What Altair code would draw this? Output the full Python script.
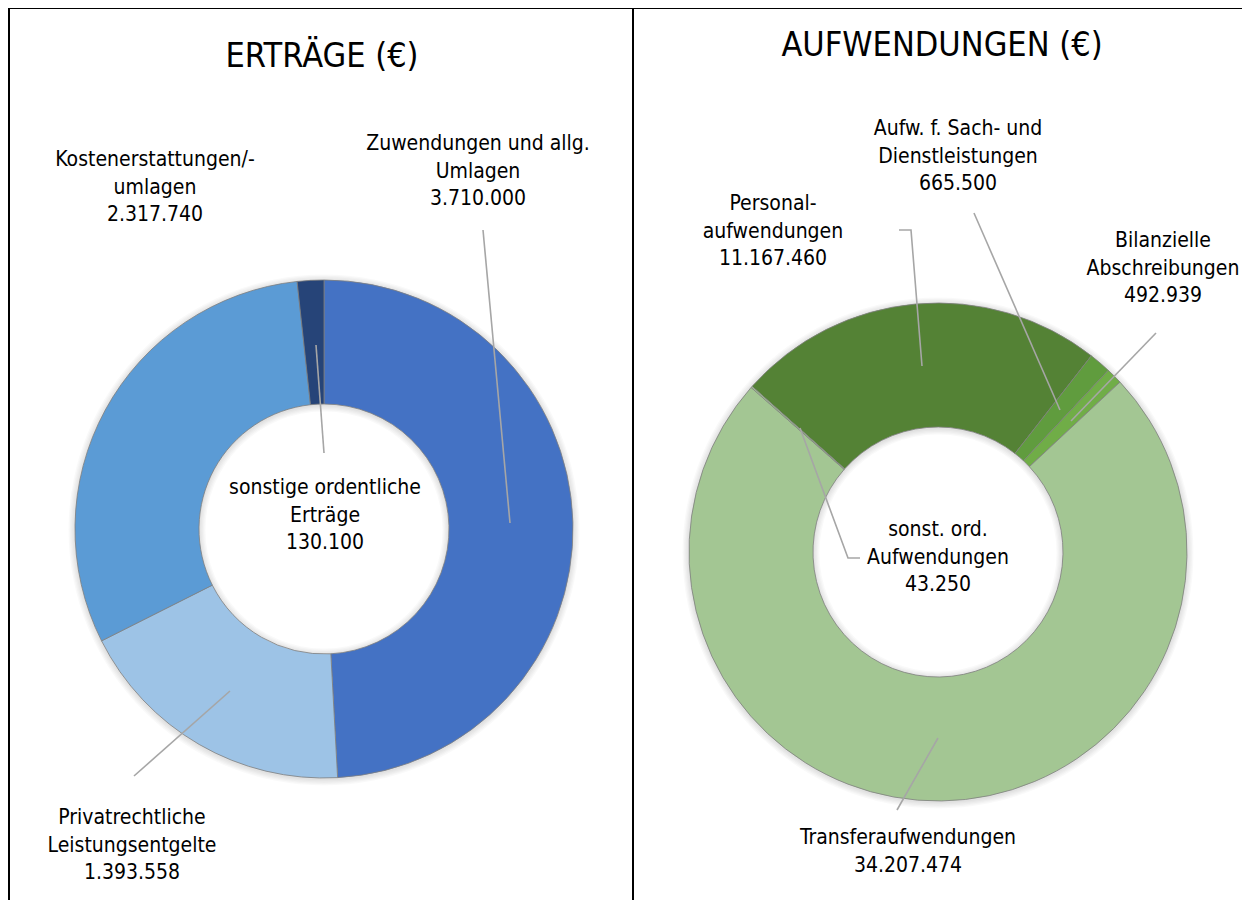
import math
import altair as alt
import pandas as pd

# ---------------- data ----------------
ertraege_names = ["Zuwendungen und allg. Umlagen", "Privatrechtliche Leistungsentgelte",
                  "Kostenerstattungen/-umlagen", "sonstige ordentliche Erträge"]
ertraege_lines = [["Zuwendungen und allg.", "Umlagen"], ["Privatrechtliche", "Leistungsentgelte"],
                  ["Kostenerstattungen/-", "umlagen"], ["sonstige ordentliche", "Erträge"]]
ertraege_values = [3710000, 1393558, 2317740, 130100]
ertraege_colors = ["#4472C4", "#9DC3E6", "#5B9BD5", "#264478"]

aufw_names = ["Personalaufwendungen", "Aufw. f. Sach- und Dienstleistungen",
              "Bilanzielle Abschreibungen", "Transferaufwendungen", "sonst. ord. Aufwendungen"]
aufw_lines = [["Personal-", "aufwendungen"], ["Aufw. f. Sach- und", "Dienstleistungen"],
              ["Bilanzielle", "Abschreibungen"], ["Transferaufwendungen"], ["sonst. ord.", "Aufwendungen"]]
aufw_values = [11167460, 665500, 492939, 34207474, 43250]
aufw_colors = ["#548235", "#609C3E", "#70AD47", "#A3C693", "#A3C693"]

title_left = "ERTRÄGE (€)"
title_right = "AUFWENDUNGEN (€)"

# ---------------- layout (pixels) ----------------
W, H = 1234, 892
FONT = "DejaVu Sans Condensed, Liberation Sans, sans-serif"
R_OUT, R_IN = 249, 125
C_LEFT = (316, 521)
C_RIGHT = (930, 544)
START_RIGHT = math.radians(-48.3)

# (x centre, y of first line)
label_pos_left = [(470, 136), (124, 810), (147, 152), (317, 480)]
label_pos_right = [(765, 196), (950, 121), (1155, 233), (900, 830), (930, 522)]
leaders_left = [[(475, 222), (502, 515)], [(126, 768), (222, 683)], None, [(308, 337), (316, 445)]]
leaders_right = [[(891, 222), (903, 222), (914, 358)], [(966, 205), (1052, 402)],
                 [(1148, 325), (1063, 413)], [(889, 802), (930, 730)],
                 [(792, 420), (840, 550), (852, 550)]]


def fmt(v):
    return f"{v:,}".replace(",", ".")


def donut(names, values, colors, center, start):
    df = pd.DataFrame({"name": names, "value": values, "idx": list(range(len(names)))})
    shadow = []
    for k in range(1, 6):
        shadow.append(
            alt.Chart(pd.DataFrame({"a": [0]})).mark_arc(
                theta=0, theta2=2 * math.pi, radius=R_OUT + k * 1.3, radius2=R_IN - k * 1.3,
                color="#000000", opacity=0.022
            ).encode(x=alt.value(center[0]), y=alt.value(center[1] + 1))
        )
    arcs = alt.Chart(df).mark_arc(radius=R_OUT, radius2=R_IN, stroke="#7f7f7f", strokeWidth=0.8).encode(
        theta=alt.Theta("value:Q", stack=True,
                        scale=alt.Scale(range=[start, start + 2 * math.pi])),
        order=alt.Order("idx:Q"),
        color=alt.Color("name:N", scale=alt.Scale(domain=names, range=colors), legend=None),
        x=alt.value(center[0]),
        y=alt.value(center[1]),
    )
    return shadow + [arcs]


def texts(lines, values, positions):
    rows = []
    for ln, v, p in zip(lines, values, positions):
        rows.append({"x": p[0], "y": p[1], "t": "\n".join(ln + [fmt(v)])})
    return alt.Chart(pd.DataFrame(rows)).mark_text(
        font=FONT, fontSize=21, color="#000000", lineBreak="\n", lineHeight=27.5,
        align="center", baseline="middle"
    ).encode(x=alt.X("x:Q", scale=None), y=alt.Y("y:Q", scale=None), text="t:N")


def leaders(paths, tag):
    rows = []
    for i, p in enumerate(paths):
        if p is None:
            continue
        for j, (x, y) in enumerate(p):
            rows.append({"g": f"{tag}{i}", "o": j, "x": x, "y": y})
    return alt.Chart(pd.DataFrame(rows)).mark_line(color="#A6A6A6", strokeWidth=1.6).encode(
        x=alt.X("x:Q", scale=None), y=alt.Y("y:Q", scale=None),
        detail="g:N", order="o:Q"
    )


def title(txt, x, y):
    return alt.Chart(pd.DataFrame({"t": [txt]})).mark_text(
        font=FONT, fontSize=34, color="#000000", align="center", baseline="middle"
    ).encode(x=alt.value(x), y=alt.value(y), text="t:N")


borders = alt.Chart(pd.DataFrame({
    "x": [1, 0, 625], "x2": [1, W, 625], "y": [0, 0, 0], "y2": [H, 0, H]
})).mark_rule(color="#000000", strokeWidth=2).encode(
    x=alt.X("x:Q", scale=None), x2="x2:Q", y=alt.Y("y:Q", scale=None), y2="y2:Q"
)

layers = []
layers += donut(ertraege_names, ertraege_values, ertraege_colors, C_LEFT, 0.0)
layers += donut(aufw_names, aufw_values, aufw_colors, C_RIGHT, START_RIGHT)
layers += [
    leaders(leaders_left, "L"), leaders(leaders_right, "R"),
    texts(ertraege_lines, ertraege_values, label_pos_left),
    texts(aufw_lines, aufw_values, label_pos_right),
    title(title_left, 314, 49), title(title_right, 934, 38),
    borders,
]

chart = alt.layer(*layers).resolve_scale(
    theta="independent", color="independent"
).properties(
    width=W, height=H, autosize=alt.AutoSizeParams(type="none"), padding=0
).configure_view(stroke=None)

chart.save("out.html", embed_options={"renderer": "svg", "actions": False})
